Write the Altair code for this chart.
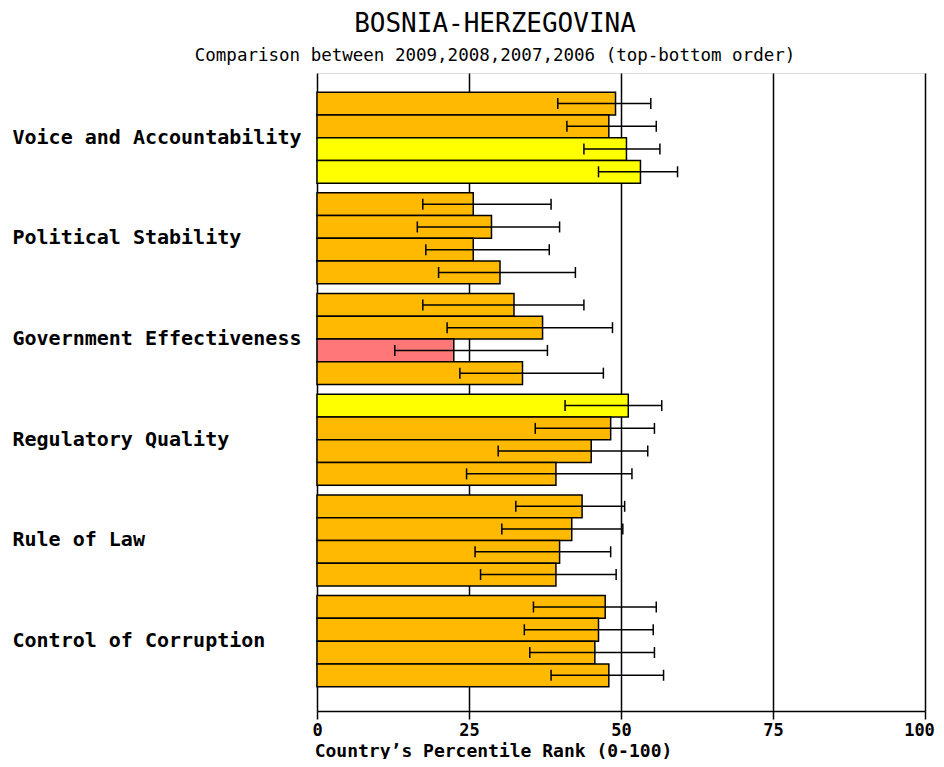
import altair as alt
import pandas as pd

categories = ["Voice and Accountability", "Political Stability", "Government Effectiveness",
              "Regulatory Quality", "Rule of Law", "Control of Corruption"]
years = ["2009", "2008", "2007", "2006"]

# percentile rank per indicator, years in order 2009, 2008, 2007, 2006
rank = [
    [49.1, 48.0, 50.9, 53.2],
    [25.7, 28.7, 25.7, 30.1],
    [32.4, 37.1, 22.5, 33.8],
    [51.2, 48.3, 45.1, 39.3],
    [43.6, 41.9, 39.9, 39.3],
    [47.4, 46.3, 45.7, 48.0],
]
low = [
    [39.6, 41.1, 43.9, 46.3],
    [17.4, 16.5, 17.9, 20.0],
    [17.4, 21.4, 12.8, 23.5],
    [40.8, 35.9, 29.8, 24.6],
    [32.7, 30.4, 26.0, 26.9],
    [35.6, 34.1, 35.0, 38.5],
]
high = [
    [54.9, 55.8, 56.4, 59.3],
    [38.5, 39.9, 38.2, 42.5],
    [43.9, 48.6, 37.9, 47.1],
    [56.7, 55.5, 54.4, 51.8],
    [50.6, 50.3, 48.3, 49.2],
    [55.8, 55.3, 55.5, 57.0],
]

band_names = ["0-10", "10-25", "25-50", "50-75", "75-90", "90-100"]
band_colors = ["#FF0000", "#FF7777", "#FFBA00", "#FFFF00", "#99CC00", "#009900"]


def band_of(v):
    if v < 10:
        return band_names[0]
    if v < 25:
        return band_names[1]
    if v < 50:
        return band_names[2]
    if v < 75:
        return band_names[3]
    if v < 90:
        return band_names[4]
    return band_names[5]


rows = []
for i, c in enumerate(categories):
    for j, y in enumerate(years):
        rows.append(dict(cat=c, year=y, rank=rank[i][j], low=low[i][j],
                         high=high[i][j], band=band_of(rank[i][j])))
df = pd.DataFrame(rows)

MONO = "DejaVu Sans Mono"

y_enc = alt.Y("cat:N", sort=categories, title=None,
              scale=alt.Scale(paddingInner=0.096, paddingOuter=0.216, align=0.44),
              axis=alt.Axis(labelAlign="left", labelPadding=305, ticks=False, domain=False,
                            labelFont=MONO, labelFontSize=20, labelFontWeight="bold",
                            labelColor="black", labelLimit=400))
yoff = alt.YOffset("year:N", sort=years, scale=alt.Scale(paddingInner=0, paddingOuter=0))
x_enc = alt.X("rank:Q", scale=alt.Scale(domain=[0, 100], nice=False),
              title="Country\u2019s Percentile Rank (0-100)",
              axis=alt.Axis(values=[0, 25, 50, 75, 100], tickSize=8, tickColor="black",
                            tickWidth=1.5, domainColor="black", domainWidth=1.5,
                            grid=True, gridColor="black", gridWidth=1.5, gridOpacity=1,
                            labelFont=MONO, labelFontSize=17, labelFontWeight="bold",
                            labelColor="black", labelPadding=3, labelFlush=False,
                            labelOffset={"condition": {"test": "datum.value >= 100", "value": -6},
                                         "value": 0},
                            titleFont=MONO, titleFontSize=18, titleFontWeight="bold",
                            titleColor="black", titleX=176, titleY=40,
                            titleAlign="center", titleBaseline="middle"))

base = alt.Chart(df)

bars = base.mark_bar(stroke="black", strokeWidth=1.5).encode(
    x=x_enc, y=y_enc, yOffset=yoff,
    color=alt.Color("band:N", scale=alt.Scale(domain=band_names, range=band_colors), legend=None),
)
rules = base.mark_rule(color="black", strokeWidth=1.5).encode(
    x="low:Q", x2="high:Q", y=alt.Y("cat:N", sort=categories), yOffset=yoff)
cap_lo = base.mark_tick(color="black", thickness=1.5, size=11, opacity=1).encode(
    x="low:Q", y=alt.Y("cat:N", sort=categories), yOffset=yoff)
cap_hi = base.mark_tick(color="black", thickness=1.5, size=11, opacity=1).encode(
    x="high:Q", y=alt.Y("cat:N", sort=categories), yOffset=yoff)

chart = alt.layer(bars, rules, cap_lo, cap_hi).properties(
    width=608, height=638,
    autosize=alt.AutoSizeParams(type="none"),
    padding={"left": 309, "top": 65, "right": 11, "bottom": 48},
    title=alt.TitleParams(
        "BOSNIA-HERZEGOVINA",
        subtitle="Comparison between 2009,2008,2007,2006 (top-bottom order)",
        font=MONO, fontSize=26, fontWeight="normal", color="black",
        subtitleFont=MONO, subtitleFontSize=17.5, subtitleColor="black",
        subtitlePadding=10, anchor="middle", dx=-126, offset=9,
    ),
).configure_view(stroke="#999999", strokeWidth=2).configure(background="white")

chart.save("out.html", embed_options={"renderer": "svg", "actions": False})
